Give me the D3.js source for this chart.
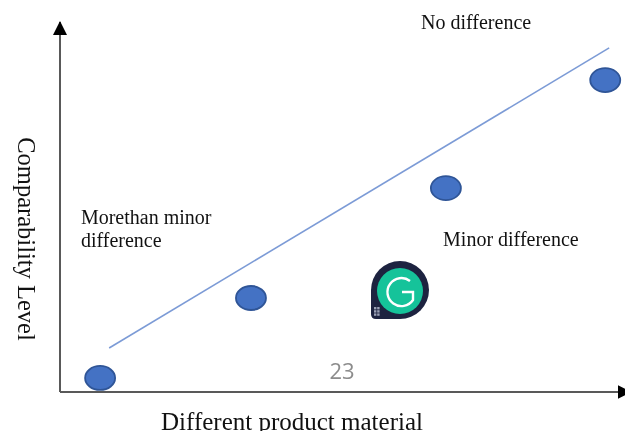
<!DOCTYPE html>
<html>
<head>
<meta charset="utf-8">
<script src="https://cdn.jsdelivr.net/npm/d3@7"></script>
<style>
  html, body { margin: 0; padding: 0; background: #fff; overflow: hidden; }
  svg { display: block; filter: blur(0.35px); }
  text { font-family: "Liberation Serif", serif; fill: #111; }
</style>
</head>
<body>
<svg id="chart"></svg>
<script>
// values, 0-100 on both axes
const point_x = [7.1, 33.8, 68.3, 96.5];
const point_y = [3.8, 25.4, 55.1, 84.3];
const line_x = [8.7, 97.2];
const line_y = [11.9, 93];
const x_title = 'Different product material';
const y_title = 'Comparability Level';
const region_labels = ['No difference', 'Minor difference', 'Morethan minor', 'difference'];
const region_x = [63.9, 67.8, 3.7, 3.7];
const region_y = [98.1, 39.5, 45.4, 39.2];
const page_number = '23';

const width = 625, height = 431;
const origin = {x: 60, y: 392};

const svg = d3.select('#chart')
    .attr('width', width)
    .attr('height', height);

const xscale = d3.scaleLinear().domain([0, 100]).range([origin.x, width]);
const yscale = d3.scaleLinear().domain([0, 100]).range([origin.y, 22]);

const defs = svg.append('defs');
defs.append('marker')
    .attr('id', 'head')
    .attr('viewBox', '0 0 14 14')
    .attr('refX', 13)
    .attr('refY', 7)
    .attr('markerWidth', 14)
    .attr('markerHeight', 14)
    .attr('markerUnits', 'userSpaceOnUse')
    .attr('orient', 'auto')
    .append('path')
    .attr('d', 'M0,0 L14,7 L0,14 Z')
    .attr('fill', '#000');

// axes: no ticks in the original, only the domain line with an arrow
const xaxis = d3.axisBottom(xscale).tickValues([]).tickSizeOuter(0);
const yaxis = d3.axisLeft(yscale).tickValues([]).tickSizeOuter(0);

// the x arrow runs off the right edge of the picture, so it goes past 100
svg.append('g')
    .attr('transform', `translate(0, ${origin.y})`)
    .call(xaxis)
    .select('.domain')
    .attr('d', `M${xscale(0)},0 L${xscale(101)},0`)
    .attr('stroke', '#595959')
    .attr('stroke-width', 2)
    .attr('marker-end', 'url(#head)');

svg.append('g')
    .attr('transform', `translate(${origin.x}, 0)`)
    .call(yaxis)
    .select('.domain')
    .attr('d', `M0,${yscale(0)} L0,${yscale(100)}`)
    .attr('stroke', '#595959')
    .attr('stroke-width', 2)
    .attr('marker-end', 'url(#head)');

// trend line
const line = d3.line()
    .x(d => xscale(d))
    .y((d, i) => yscale(line_y[i]));

svg.append('path')
    .attr('d', line(line_x))
    .attr('fill', 'none')
    .attr('stroke', '#7c9bd6')
    .attr('stroke-width', 1.6);

// points
svg.selectAll('ellipse.pt')
    .data(point_x)
    .join('ellipse')
    .attr('class', 'pt')
    .attr('cx', d => xscale(d))
    .attr('cy', (d, i) => yscale(point_y[i]))
    .attr('rx', 15)
    .attr('ry', 12)
    .attr('fill', '#4472c4')
    .attr('stroke', '#2f5597')
    .attr('stroke-width', 1.8);

// labels
svg.selectAll('text.region')
    .data(region_labels)
    .join('text')
    .attr('class', 'region')
    .attr('x', (d, i) => xscale(region_x[i]))
    .attr('y', (d, i) => yscale(region_y[i]))
    .style('font-size', '20px')
    .text(d => d);

// baseline sits on the bottom edge, the descender is cut in the reference too
svg.append('text')
    .attr('x', 292)
    .attr('y', 430)
    .attr('text-anchor', 'middle')
    .style('font-size', '25px')
    .text(x_title);

svg.append('text')
    .attr('transform', 'translate(18, 239) rotate(90)')
    .attr('text-anchor', 'middle')
    .style('font-size', '24.5px')
    .text(y_title);

svg.append('text')
    .attr('x', 342)
    .attr('y', 379)
    .attr('text-anchor', 'middle')
    .style('font-family', '"Open Sans", sans-serif')
    .style('font-size', '22px')
    .style('fill', '#8c8c8c')
    .text(page_number);

// grammarly badge sitting on top of the screenshot
const badge = svg.append('g').attr('transform', 'translate(400, 290)');
badge.append('path')
    .attr('d', 'M-29,0 A29,29 0 1 1 0,29 L-24,29 Q-29,29 -29,24 Z')
    .attr('fill', '#1d2340');
badge.append('circle')
    .attr('cy', 1)
    .attr('r', 23)
    .attr('fill', '#15c39a');
badge.append('path')
    .attr('d', 'M10,-9 A14,14 0 1 0 13,10 L13,2 L2,2')
    .attr('fill', 'none')
    .attr('stroke', '#fff')
    .attr('stroke-width', 2.4);
badge.selectAll('rect')
    .data(d3.cross([0, 1], [0, 1, 2]))
    .join('rect')
    .attr('x', d => -26 + d[0] * 3.2)
    .attr('y', d => 17 + d[1] * 3.2)
    .attr('width', 2.4)
    .attr('height', 2.4)
    .attr('fill', '#9aa0b5');
</script>
</body>
</html>
